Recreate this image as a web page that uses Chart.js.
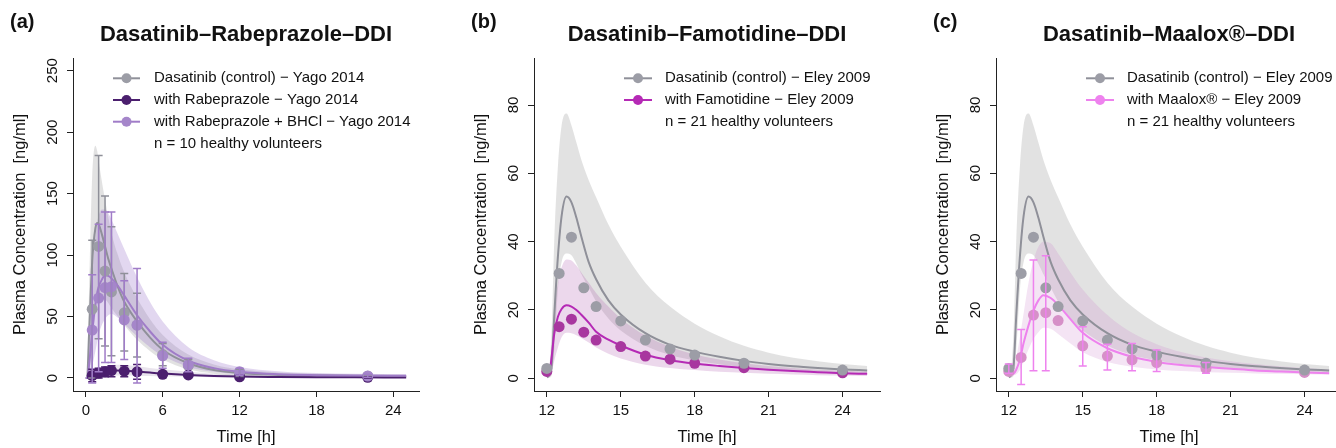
<!DOCTYPE html>
<html lang="en">
<head>
  <meta charset="UTF-8">
  <title>Dasatinib DDI</title>
  <script src="https://cdn.jsdelivr.net/npm/chart.js"></script>
  <style>
    html, body { margin: 0; padding: 0; background: #fff; overflow: hidden; }
    body { width: 1336px; height: 448px; position: relative; }
    canvas { position: absolute; top: 0; }
  </style>
</head>
<body>
  <canvas id="chartA" width="450" height="448" style="left:0px"></canvas>
  <canvas id="chartB" width="450" height="448" style="left:461px"></canvas>
  <canvas id="chartC" width="450" height="448" style="left:923px"></canvas>

  <script>
    // ---- panel (a): Yago 2014 ----
    const simTimeA = [0, 0.1, 0.25, 0.5, 0.75, 0.9, 1, 1.25, 1.5, 1.75, 2, 2.5, 3, 4, 5, 6, 8, 10, 12, 15, 18, 21, 25];
    const ctrlLineA = [0, 0, 35, 95, 122, 126, 125, 117, 107, 97, 89, 74, 62, 46, 33, 23, 12, 6.5, 4, 2.5, 2, 1.6, 1.4];
    const ctrlHighA = [0, 0, 70, 165, 189, 184, 177, 160, 145, 131, 118, 100, 86, 65, 48, 35, 19, 11, 7, 4.5, 3.5, 3, 2.6];
    const ctrlLowA  = [0, 0, 5, 25, 52, 60, 63, 65, 64, 61, 57, 50, 43, 31, 22, 15, 7, 3.5, 2, 1, 0.8, 0.6, 0.5];
    const bhclLineA = [0, 0, 10, 38, 60, 70, 74, 80, 83.5, 83, 81, 75, 67, 51, 38, 27, 14, 8, 5, 3, 2.3, 2, 1.8];
    const bhclHighA = [0, 0, 30, 85, 115, 127, 132, 137, 137, 134, 129, 117, 105, 82, 62, 46, 25, 14.5, 9, 5.5, 4, 3.4, 3];
    const bhclLowA  = [0, 0, 2, 10, 22, 30, 35, 43, 48, 51, 52, 49, 44, 34, 25, 18, 9, 5, 3, 1.6, 1.2, 1, 0.9];
    const rabeLineA = [0, 0, 0.8, 2, 3, 3.5, 3.8, 4.4, 5, 5.4, 5.8, 6, 5.9, 5.2, 4.4, 3.6, 2.4, 1.6, 1.1, 0.8, 0.6, 0.5, 0.4];
    const rabeHighA = [0, 0, 2, 4.5, 6.5, 7.5, 8, 9, 9.5, 10, 10.5, 10.7, 10.5, 9.5, 8.2, 7, 5, 3.4, 2.4, 1.6, 1.2, 1, 0.9];
    const rabeLowA  = [0, 0, 0.2, 0.6, 1, 1.2, 1.3, 1.5, 1.7, 1.9, 2, 2.1, 2.1, 1.9, 1.6, 1.3, 0.9, 0.6, 0.4, 0.3, 0.2, 0.2, 0.1];

    const obsTimeA = [0.5, 1, 1.5, 2, 3, 4, 6, 8, 12, 22];
    const ctrlObsA = [56, 107, 87, 70, 53, 43, 19, 10, 4, 1.5];
    const ctrlLoA  = [0, 32, 26, 18, 22, 17, 10, 5, 1, 0.5];
    const ctrlHiA  = [112, 181, 148, 123, 85, 69, 28, 15, 7, 2.5];
    const bhclObsA = [39, 65, 73.5, 74.3, 47.2, 43.1, 18, 10.6, 5, 1.6];
    const bhclLoA  = [-4, 5, 12.5, 12.5, 15, -4, 8, 5, 2, 0.5];
    const bhclHiA  = [84, 125, 135, 135, 79, 89, 29, 16, 8, 3];
    const rabeObsA = [2, 4, 5, 6, 5.5, 5, 3, 2.5, 1, 0.5];
    const rabeLoA  = [-3, 0, 1, 1, 1, -1, 1, 1, 0, 0];
    const rabeHiA  = [7, 8, 9, 10, 10, 11, 5, 4, 2, 1];

    // ---- panels (b) and (c): Eley 2009 ----
    const simTimeE = [12, 12.1, 12.2, 12.3, 12.45, 12.6, 12.8, 13, 13.2, 13.4, 13.7, 14, 14.5, 15, 16, 17, 18, 19, 20, 21, 22, 23, 24, 25];
    const ctrlLineE = [0.3, 1, 4, 18, 35.6, 47.5, 53.2, 51.5, 47, 41.5, 34, 29, 22.8, 18.7, 13.2, 9.8, 7.8, 6.3, 5.1, 4.2, 3.5, 3, 2.6, 2.3];
    const ctrlHighE = [0.5, 3, 15, 40, 62, 74, 77.5, 74, 69, 64, 58, 53, 45, 38.5, 28, 21, 16, 12.3, 9.5, 7.5, 6, 5, 4.2, 3.6];
    const ctrlLowE  = [0, 0.2, 1, 8, 26, 34, 36.5, 36, 33.5, 30.5, 26.5, 22.5, 17.5, 14, 9.5, 6.8, 5.2, 4.1, 3.3, 2.7, 2.3, 2, 1.7, 1.5];
    const famoLineE = [0.8, 1.5, 6.5, 13, 18, 20.3, 21.4, 21, 20, 18.6, 16.3, 13.6, 11.3, 9.6, 6.9, 5.3, 4.3, 3.6, 3, 2.5, 2.1, 1.8, 1.5, 1.3];
    const famoHighE = [0.5, 2.5, 10, 20, 28, 32.5, 34.8, 34.5, 33, 31, 28, 25, 21, 17.5, 12.5, 9.2, 7, 5.5, 4.4, 3.6, 3, 2.5, 2.2, 1.9];
    const famoLowE  = [0, 0.3, 2, 5, 9, 12, 13.3, 13.2, 12.6, 11.8, 10.5, 9, 7.2, 5.8, 4, 3, 2.4, 1.9, 1.6, 1.3, 1.1, 0.9, 0.8, 0.7];
    const maalLineE = [1.5, 1.1, 1.4, 2.5, 5.5, 10.3, 15.5, 19.8, 22.8, 24.3, 23.5, 21.5, 17.3, 13.3, 8.8, 6.3, 4.8, 3.9, 3.3, 2.8, 2.3, 2, 1.7, 1.5];
    const maalHighE = [1.6, 1.5, 3, 6, 12, 19, 28, 34.5, 38.5, 40, 39.5, 36.5, 31, 26, 18.5, 13.3, 10, 7.7, 6.1, 5, 4.2, 3.5, 3, 2.6];
    const maalLowE  = [1, 0.8, 0.9, 1.2, 2.5, 5, 8.5, 11.5, 13.5, 14.8, 14.5, 13, 10.2, 7.6, 4.8, 3.4, 2.6, 2.1, 1.8, 1.6, 1.4, 1.3, 1.2, 1.1];

    const obsTimeE = [12, 12.5, 13, 13.5, 14, 15, 16, 17, 18, 20, 24];
    const ctrlObsE = [2.9, 30.7, 41.3, 26.5, 21, 16.8, 11.2, 8.6, 6.8, 4.4, 2.4];
    const famoObsE = [2, 15.1, 17.3, 13.5, 11.2, 9.3, 6.5, 5.6, 4.4, 3.1, 1.6];
    const maalObsE = [2, 6.1, 18.5, 19.2, 16.9, 9.5, 6.5, 5.4, 4.6, 2.9, 1.7];
    const maalLoE  = [1.5, -1.8, 2.2, 2.2, null, 3.6, 2.4, 2.2, 2, 1.5, null];
    const maalHiE  = [4.2, 14.3, 34.6, 35.9, null, 15.1, 10, 10.2, 8.3, 4.6, null];

    // axis ticks
    const xTicksA = [0, 6, 12, 18, 24];
    const xTicksE = [12, 15, 18, 21, 24];
    const yTicksA = [0, 50, 100, 150, 200, 250];
    const yTicksE = [0, 20, 40, 60, 80];

    const FONT = '"Liberation Sans", Arial, Helvetica, sans-serif';
    Chart.defaults.font.family = FONT;
    const AXIS = '#222';
    const INK = '#111';

    const GREY = '#8f9099', GREY_PT = '#9c9da6', GREY_BAND = 'rgba(160,160,160,0.3)';
    const RABE = '#4b1f6e', RABE_BAND = 'rgba(75,31,110,0.12)';
    const BHCL = '#a07cc8', BHCL_PT = '#a586ca', BHCL_BAND = 'rgba(150,110,200,0.28)';
    const FAMO = '#b52ab5', FAMO_PT = '#a8379f', FAMO_BAND = 'rgba(160,60,160,0.2)';
    const MAAL = '#ee82ee', MAAL_PT = '#d690c8', MAAL_BAND = 'rgba(200,120,200,0.2)';

    function xy(ts, vs) { return ts.map((t, i) => ({ x: t, y: vs[i] })); }

    function band(ts, hi, lo, color, order) {
      return [
        { data: xy(ts, hi), fill: '+1', backgroundColor: color, borderWidth: 0, pointRadius: 0,
          cubicInterpolationMode: 'monotone', order: order },
        { data: xy(ts, lo), fill: false, borderWidth: 0, pointRadius: 0,
          cubicInterpolationMode: 'monotone', order: order + 1 }
      ];
    }

    function simLine(label, ts, vs, color, order) {
      return { label: label, data: xy(ts, vs), borderColor: color, borderWidth: 2, pointRadius: 0,
        fill: false, cubicInterpolationMode: 'monotone', order: order };
    }

    function obs(label, ts, vs, color, lo, hi, barColor, order) {
      return { label: label, data: xy(ts, vs), showLine: false, pointRadius: 5.5, pointBorderWidth: 0,
        pointBackgroundColor: color, borderColor: color, backgroundColor: color,
        errLo: lo, errHi: hi, errColor: barColor, order: order };
    }

    // error bars drawn from the dataset's lo/hi arrays through the chart scales
    const errorBars = {
      id: 'errorBars',
      afterDatasetsDraw(chart) {
        const { ctx, chartArea: a, scales: { x, y } } = chart;
        ctx.save();
        ctx.beginPath();
        ctx.rect(a.left, a.top, a.right - a.left, a.bottom - a.top);
        ctx.clip();
        ctx.lineWidth = 1.5;
        chart.data.datasets.forEach(ds => {
          if (!ds.errLo) return;
          ctx.strokeStyle = ds.errColor;
          ds.data.forEach((p, i) => {
            const lo = ds.errLo[i], hi = ds.errHi[i];
            if (lo == null || hi == null) return;
            const px = x.getPixelForValue(p.x);
            const pl = y.getPixelForValue(lo), ph = y.getPixelForValue(hi);
            ctx.beginPath();
            ctx.moveTo(px, pl); ctx.lineTo(px, ph);
            ctx.moveTo(px - 4, pl); ctx.lineTo(px + 4, pl);
            ctx.moveTo(px - 4, ph); ctx.lineTo(px + 4, ph);
            ctx.stroke();
          });
        });
        ctx.restore();
      }
    };

    // titles, panel tags, rotated y tick labels and the legend
    const panelDeco = {
      id: 'panelDeco',
      afterDraw(chart, args, o) {
        const { ctx, chartArea: a, scales: { y } } = chart;
        ctx.save();
        ctx.fillStyle = INK;
        ctx.font = '15px ' + FONT;
        ctx.textAlign = 'center';
        ctx.textBaseline = 'middle';
        y.ticks.forEach(t => {
          ctx.save();
          ctx.translate(a.left - 20, y.getPixelForValue(t.value));
          ctx.rotate(-Math.PI / 2);
          ctx.fillText(String(t.value), 0, 0);
          ctx.restore();
        });

        ctx.textBaseline = 'alphabetic';
        ctx.font = 'bold 22px ' + FONT;
        ctx.fillText(o.title, (a.left + a.right) / 2, 41);
        ctx.textAlign = 'left';
        ctx.font = 'bold 20px ' + FONT;
        ctx.fillText(o.tag, 10, 28);

        const lg = o.legend;
        ctx.font = '15px ' + FONT;
        ctx.textBaseline = 'middle';
        lg.items.forEach((it, i) => {
          const ry = lg.y0 + i * lg.gap;
          ctx.strokeStyle = it.color;
          ctx.lineWidth = 2;
          ctx.beginPath();
          ctx.moveTo(lg.x0, ry); ctx.lineTo(lg.x1, ry);
          ctx.stroke();
          ctx.fillStyle = it.point;
          ctx.beginPath();
          ctx.arc((lg.x0 + lg.x1) / 2, ry, 5, 0, Math.PI * 2);
          ctx.fill();
          ctx.fillStyle = INK;
          ctx.fillText(it.label, lg.tx, ry);
        });
        ctx.fillStyle = INK;
        ctx.fillText(lg.note, lg.tx, lg.y0 + lg.items.length * lg.gap);
        ctx.restore();
      }
    };

    function options(p) {
      return {
        responsive: false,
        animation: false,
        events: [],
        layout: { padding: { top: 58, right: 31, left: 0, bottom: 0 } },
        plugins: {
          legend: { display: false },
          tooltip: { enabled: false },
          panelDeco: p
        },
        scales: {
          x: {
            type: 'linear', min: p.xMin, max: p.xMax,
            afterFit: s => { s.height = 57; },
            afterBuildTicks: s => { s.ticks = p.xTicks.map(v => ({ value: v })); },
            grid: { drawOnChartArea: false, tickLength: 6, color: AXIS },
            border: { display: true, color: AXIS, width: 1 },
            ticks: { font: { size: 15 }, color: INK, padding: 5, maxRotation: 0, autoSkip: false },
            title: { display: true, text: 'Time [h]', font: { size: 16.5 }, color: INK, padding: { top: 0, bottom: 1 } }
          },
          y: {
            type: 'linear', min: p.yMin, max: p.yMax,
            afterFit: s => { s.width = 73; },
            afterBuildTicks: s => { s.ticks = p.yTicks.map(v => ({ value: v })); },
            grid: { drawOnChartArea: false, tickLength: 6, color: AXIS },
            border: { display: true, color: AXIS, width: 1 },
            ticks: { display: false },
            title: { display: true, text: 'Plasma Concentration  [ng/ml]', font: { size: 16.5 }, color: INK, padding: { top: 11, bottom: 0 } }
          }
        }
      };
    }

    const MINUS = '\u2212';

    // (a)
    new Chart(document.getElementById('chartA'), {
      type: 'line',
      data: {
        datasets: [
          ...band(simTimeA, ctrlHighA, ctrlLowA, GREY_BAND, 60),
          ...band(simTimeA, rabeHighA, rabeLowA, RABE_BAND, 50),
          ...band(simTimeA, bhclHighA, bhclLowA, BHCL_BAND, 40),
          simLine('Dasatinib (control) - simulated', simTimeA, ctrlLineA, GREY, 22),
          simLine('with Rabeprazole - simulated', simTimeA, rabeLineA, RABE, 21),
          simLine('with Rabeprazole + BHCl - simulated', simTimeA, bhclLineA, BHCL, 20),
          obs('Dasatinib (control) ' + MINUS + ' Yago 2014', obsTimeA, ctrlObsA, GREY_PT, ctrlLoA, ctrlHiA, GREY, 10),
          obs('with Rabeprazole ' + MINUS + ' Yago 2014', obsTimeA, rabeObsA, RABE, rabeLoA, rabeHiA, RABE, 9),
          obs('with Rabeprazole + BHCl ' + MINUS + ' Yago 2014', obsTimeA, bhclObsA, BHCL_PT, bhclLoA, bhclHiA, BHCL, 8)
        ]
      },
      options: options({
        title: 'Dasatinib\u2013Rabeprazole\u2013DDI', tag: '(a)',
        xMin: -1, xMax: 26, xTicks: xTicksA,
        yMin: -10.6, yMax: 260.3, yTicks: yTicksA,
        legend: {
          x0: 113, x1: 140, tx: 154, y0: 78.3, gap: 21.7,
          items: [
            { label: 'Dasatinib (control) ' + MINUS + ' Yago 2014', color: GREY, point: GREY_PT },
            { label: 'with Rabeprazole ' + MINUS + ' Yago 2014', color: RABE, point: RABE },
            { label: 'with Rabeprazole + BHCl ' + MINUS + ' Yago 2014', color: BHCL, point: BHCL_PT }
          ],
          note: 'n = 10 healthy volunteers'
        }
      }),
      plugins: [errorBars, panelDeco]
    });

    // (b)
    new Chart(document.getElementById('chartB'), {
      type: 'line',
      data: {
        datasets: [
          ...band(simTimeE, ctrlHighE, ctrlLowE, GREY_BAND, 60),
          ...band(simTimeE, famoHighE, famoLowE, FAMO_BAND, 40),
          simLine('Dasatinib (control) - simulated', simTimeE, ctrlLineE, GREY, 22),
          simLine('with Famotidine - simulated', simTimeE, famoLineE, FAMO, 20),
          obs('with Famotidine ' + MINUS + ' Eley 2009', obsTimeE, famoObsE, FAMO_PT, null, null, FAMO, 10),
          obs('Dasatinib (control) ' + MINUS + ' Eley 2009', obsTimeE, ctrlObsE, GREY_PT, null, null, GREY, 9)
        ]
      },
      options: options({
        title: 'Dasatinib\u2013Famotidine\u2013DDI', tag: '(b)',
        xMin: 11.48, xMax: 25.52, xTicks: xTicksE,
        yMin: -3.72, yMax: 93.76, yTicks: yTicksE,
        legend: {
          x0: 163, x1: 191, tx: 204, y0: 78.3, gap: 21.7,
          items: [
            { label: 'Dasatinib (control) ' + MINUS + ' Eley 2009', color: GREY, point: GREY_PT },
            { label: 'with Famotidine ' + MINUS + ' Eley 2009', color: FAMO, point: FAMO }
          ],
          note: 'n = 21 healthy volunteers'
        }
      }),
      plugins: [errorBars, panelDeco]
    });

    // (c)
    new Chart(document.getElementById('chartC'), {
      type: 'line',
      data: {
        datasets: [
          ...band(simTimeE, ctrlHighE, ctrlLowE, GREY_BAND, 60),
          ...band(simTimeE, maalHighE, maalLowE, MAAL_BAND, 40),
          simLine('Dasatinib (control) - simulated', simTimeE, ctrlLineE, GREY, 22),
          simLine('with Maalox\u00ae - simulated', simTimeE, maalLineE, MAAL, 20),
          obs('with Maalox\u00ae ' + MINUS + ' Eley 2009', obsTimeE, maalObsE, MAAL_PT, maalLoE, maalHiE, MAAL, 10),
          obs('Dasatinib (control) ' + MINUS + ' Eley 2009', obsTimeE, ctrlObsE, GREY_PT, null, null, GREY, 9)
        ]
      },
      options: options({
        title: 'Dasatinib\u2013Maalox\u00ae\u2013DDI', tag: '(c)',
        xMin: 11.48, xMax: 25.52, xTicks: xTicksE,
        yMin: -3.72, yMax: 93.76, yTicks: yTicksE,
        legend: {
          x0: 163, x1: 191, tx: 204, y0: 78.3, gap: 21.7,
          items: [
            { label: 'Dasatinib (control) ' + MINUS + ' Eley 2009', color: GREY, point: GREY_PT },
            { label: 'with Maalox\u00ae ' + MINUS + ' Eley 2009', color: MAAL, point: MAAL }
          ],
          note: 'n = 21 healthy volunteers'
        }
      }),
      plugins: [errorBars, panelDeco]
    });
  </script>
</body>
</html>
